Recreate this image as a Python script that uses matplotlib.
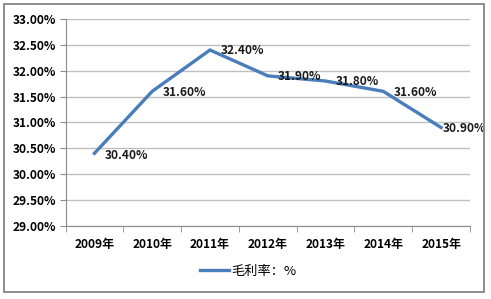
import matplotlib
matplotlib.use("Agg")
import matplotlib.pyplot as plt
from matplotlib.patches import Rectangle
from matplotlib.lines import Line2D

plt.rcParams['font.family'] = ['Noto Sans CJK SC', 'DejaVu Sans']

years = ["2009年", "2010年", "2011年", "2012年", "2013年", "2014年", "2015年"]
margin = [30.40, 31.60, 32.40, 31.90, 31.80, 31.60, 30.90]
series_name = "毛利率：%"
yticks = [29.0, 29.5, 30.0, 30.5, 31.0, 31.5, 32.0, 32.5, 33.0]

W, H = 491, 299
fig = plt.figure(figsize=(W / 100, H / 100), dpi=100)

# outer border
fig.patches.append(Rectangle((4 / W, 1 - 292 / H), 480 / W, 288 / H, transform=fig.transFigure,
                             fill=False, edgecolor="#8c8c8c", linewidth=1.4))

ax = fig.add_axes([65.5 / W, 1 - 225.7 / H, (470 - 65.5) / W, (225.7 - 19) / H])
x = list(range(len(years)))
ax.plot(x, margin, color="#4a7ebb", linewidth=2.4, solid_joinstyle="miter")
ax.set_xlim(-0.5, len(years) - 0.5)
ax.set_ylim(29.0, 33.0)
ax.set_yticks(yticks)
ax.set_yticklabels([f"{v:.2f}%" for v in yticks], fontsize=8.6, fontweight="bold")
ax.set_xticks(x)
ax.set_xticklabels(years, fontsize=8.6, fontweight="bold")
ax.set_xticks([i - 0.5 for i in range(len(years) + 1)], minor=True)
ax.tick_params(axis="x", which="major", length=0, pad=9)
ax.tick_params(axis="x", which="minor", length=4, color="#8c8c8c")
ax.tick_params(axis="y", length=4, color="#8c8c8c", pad=3)
ax.grid(axis="y", color="#bfbfbf", linewidth=1)
ax.set_axisbelow(True)
for s in ["top", "right"]:
    ax.spines[s].set_visible(False)
ax.spines["left"].set_color("#8c8c8c")
ax.spines["bottom"].set_color("#8c8c8c")

for i, (xi, v) in enumerate(zip(x, margin)):
    dx = 1.5 if i == len(x) - 1 else 7.5
    dy = -1.5 if i == 0 else -0.5
    ax.annotate(f"{v:.2f}%", (xi, v), xytext=(dx, dy), textcoords="offset points",
                ha="left", va="center", fontsize=8.6, fontweight="bold", color="#1a1a1a")

handle = Line2D([], [], color="#4a7ebb", linewidth=2.4)
fig.legend([handle], [series_name], loc="center", bbox_to_anchor=(248 / W, 1 - 271 / H),
           frameon=False, fontsize=9.5, handlelength=2.2, handletextpad=0.2)

fig.savefig("out.png", dpi=100)
